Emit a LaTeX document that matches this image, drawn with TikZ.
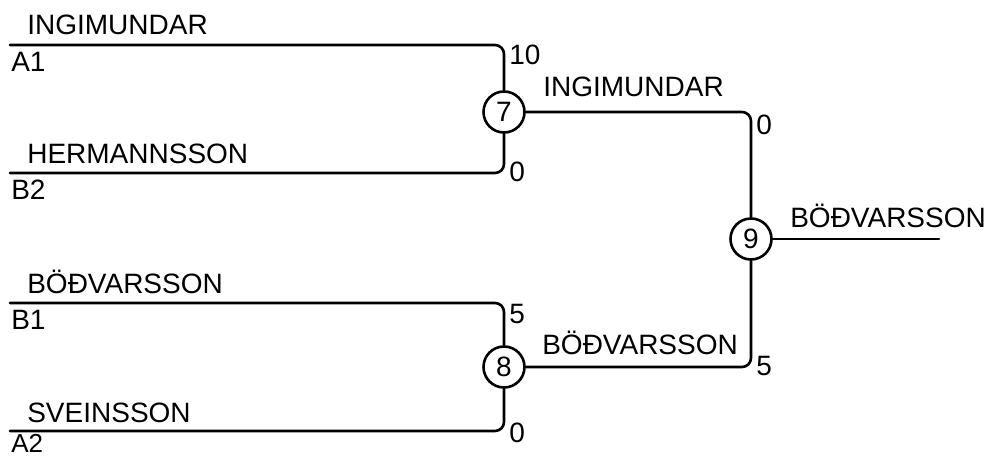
\documentclass[tikz,border=0pt]{standalone}
\usepackage{fontspec}
\setmainfont{Liberation Sans}
\begin{document}
\begin{tikzpicture}[x=1pt,y=-1pt,line width=2.6pt,line join=round,line cap=round,
	font=\fontsize{28}{34}\selectfont,
	match/.style={circle,draw,minimum size=41pt,inner sep=0pt},
	team/.style={anchor=base west,inner sep=0pt},
	score/.style={anchor=base west,inner sep=0pt}]
			\useasboundingbox (0,0) rectangle (990,457);
			\def\rad{9pt}
			% entries
			\coordinate (a1) at (10,45);
			\coordinate (b2) at (10,173);
			\coordinate (b1) at (10,303);
			\coordinate (a2) at (10,431);
			% matches
			\node[match] (m7) at (504,112) {7};
			\node[match] (m8) at (504,367) {8};
			\node[match] (m9) at (751,239) {9};
			\coordinate (win) at (939,239);
			% lines
			\draw[rounded corners=\rad] (a1)--(a1 -| m7)--(m7);
			\draw[rounded corners=\rad] (b2)--(b2 -| m7)--(m7);
			\draw[rounded corners=\rad] (b1)--(b1 -| m8)--(m8);
			\draw[rounded corners=\rad] (a2)--(a2 -| m8)--(m8);
			\draw[rounded corners=\rad] (m7)--(m7 -| m9)--(m9);
			\draw[rounded corners=\rad] (m8)--(m8 -| m9)--(m9);
			\draw (m9)--(win);
			% names
			\node[team] at (26,35) {INGIMUNDAR};
			\node[team] at (10,72) {A1};
			\node[team] at (26,164) {HERMANNSSON};
			\node[team] at (10,200) {B2};
			\node[team] at (26,293) {BÖĐVARSSON};
			\node[team] at (10,329) {B1};
			\node[team] at (26,422) {SVEINSSON};
			\node[team,font=\fontsize{26}{30}\selectfont] at (10,452) {A2};
			\node[team] at (542,97) {INGIMUNDAR};
			\node[team] at (541,354) {BÖĐVARSSON};
			\node[team] at (789,227) {BÖĐVARSSON};
			% scores
			\node[score] at (508,65) {10};
			\node[score] at (508,182) {0};
			\node[score] at (508,323) {5};
			\node[score] at (508,442) {0};
			\node[score] at (755,135) {0};
			\node[score] at (755,375) {5};
		\end{tikzpicture}
\end{document}
